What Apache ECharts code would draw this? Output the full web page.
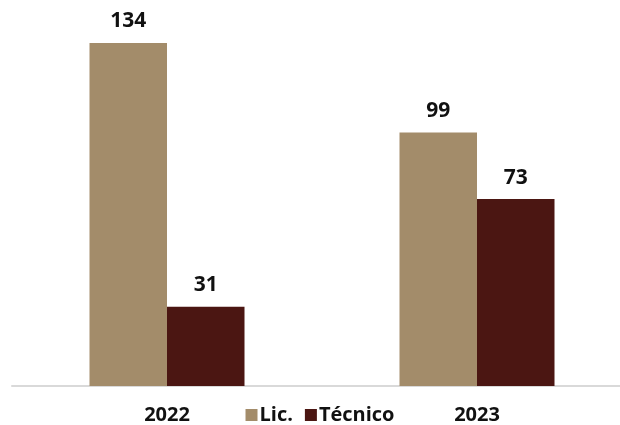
<!DOCTYPE html>
<html><head><meta charset="utf-8">
<script src="https://cdn.jsdelivr.net/npm/echarts@6/dist/echarts.min.js"></script>
<style>html,body{margin:0;padding:0;background:#fff;overflow:hidden}#c{width:640px;height:425px}</style>
</head><body><div id="c"></div>
<script>
const categories = ['2022', '2023'];
const licValues = [134, 99];
const tecnicoValues = [31, 73];
const seriesNames = ['Lic.', 'Técnico'];

const chart = echarts.init(document.getElementById('c'));
const FONT = 'Open Sans';
const labelStyle = { show: true, position: 'top', distance: 11, fontFamily: FONT, fontWeight: 'bold', fontSize: 21, color: '#111' };
chart.setOption({
  animation: false,
  grid: { left: 12, right: 8, top: 2, height: 384 },
  legend: {
    data: seriesNames, top: 400, left: 'center', itemWidth: 12, itemHeight: 12, itemGap: 12,
    icon: 'rect',
    textStyle: { fontFamily: FONT, fontWeight: 'bold', fontSize: 20, color: '#111', padding: [0, 0, 0, -3] }
  },
  xAxis: {
    type: 'category', data: categories,
    axisLine: { lineStyle: { color: '#d9d9d9', width: 2 } },
    axisTick: { show: false },
    axisLabel: { fontFamily: FONT, fontWeight: 'bold', fontSize: 20, color: '#111', margin: 19 }
  },
  yAxis: { type: 'value', min: 0, max: 150, show: false, splitLine: { show: false } },
  series: [
    { name: seriesNames[0], type: 'bar', data: licValues, barWidth: '25%', barGap: '0%', itemStyle: { color: '#A38C6A' }, label: labelStyle },
    { name: seriesNames[1], type: 'bar', data: tecnicoValues, barWidth: '25%', barGap: '0%', itemStyle: { color: '#4B1612' }, label: labelStyle }
  ]
});
</script></body></html>
